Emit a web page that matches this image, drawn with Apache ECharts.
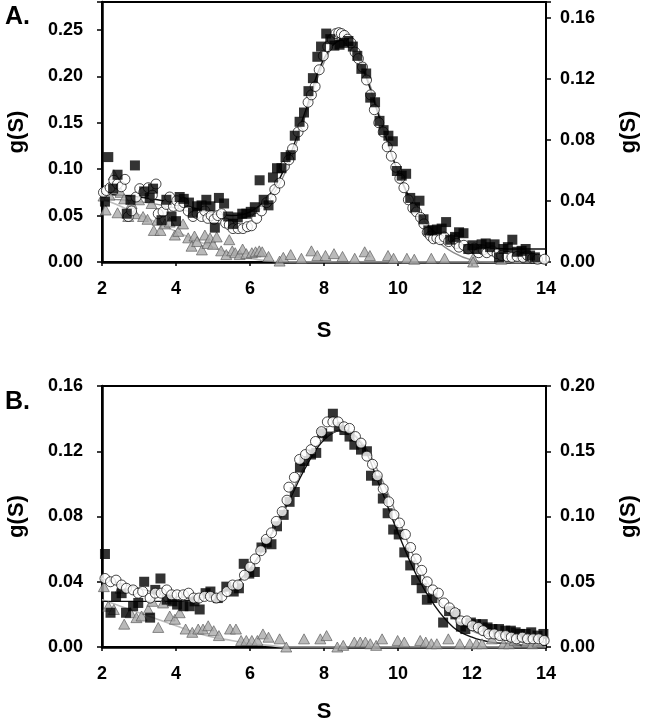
<!DOCTYPE html>
<html><head><meta charset="utf-8">
<script src="https://cdn.jsdelivr.net/npm/echarts@6/dist/echarts.min.js"></script>
<style>html,body{margin:0;padding:0;background:#fff}#c{width:648px;height:720px}</style>
</head><body><div id="c"></div>
<script>
// ---------- Panel A ----------
const aSquareS = [2.08,2.17,2.30,2.42,2.67,2.77,2.89,3.14,3.29,3.38,3.61,3.74,3.88,4.00,4.10,4.21,4.35,4.46,4.57,4.69,4.82,4.93,5.05,5.16,5.30,5.41,5.54,5.67,5.79,5.90,6.02,6.13,6.26,6.37,6.50,6.62,6.73,6.85,6.96,7.10,7.21,7.34,7.46,7.58,7.70,7.82,7.92,8.06,8.17,8.28,8.42,8.54,8.66,8.78,8.90,9.01,9.14,9.25,9.38,9.50,9.61,9.74,9.86,9.97,10.10,10.22,10.33,10.46,10.58,10.69,10.82,10.93,11.05,11.18,11.30,11.41,11.54,11.65,11.77,11.90,12.01,12.13,12.26,12.37,12.49,12.61,12.73,12.85,12.97,13.09,13.22,13.34,13.45,13.57,13.70];
const aSquareG = [0.065,0.113,0.079,0.094,0.052,0.067,0.104,0.076,0.069,0.079,0.045,0.067,0.049,0.044,0.070,0.068,0.064,0.053,0.060,0.061,0.067,0.060,0.037,0.069,0.063,0.049,0.041,0.048,0.052,0.052,0.054,0.059,0.088,0.067,0.061,0.091,0.101,0.101,0.113,0.115,0.136,0.151,0.161,0.184,0.198,0.221,0.232,0.246,0.240,0.233,0.234,0.236,0.238,0.232,0.222,0.208,0.203,0.177,0.172,0.152,0.142,0.136,0.130,0.098,0.093,0.095,0.069,0.059,0.066,0.046,0.034,0.034,0.035,0.036,0.043,0.024,0.027,0.032,0.031,0.014,0.018,0.014,0.019,0.020,0.016,0.019,0.005,0.014,0.016,0.024,0.011,0.012,0.014,0.007,0.005];
const aCircleS = [2.04,2.12,2.22,2.32,2.42,2.52,2.62,2.71,2.80,2.92,3.02,3.13,3.25,3.36,3.46,3.52,3.65,3.74,3.83,3.93,4.02,4.10,4.21,4.33,4.46,4.57,4.69,4.78,4.86,4.95,5.03,5.13,5.23,5.34,5.44,5.54,5.68,5.81,5.93,6.04,6.18,6.31,6.45,6.57,6.67,6.80,6.93,7.05,7.15,7.30,7.43,7.57,7.66,7.76,7.87,7.98,8.10,8.22,8.32,8.40,8.47,8.55,8.64,8.73,8.84,8.93,9.04,9.15,9.26,9.36,9.48,9.60,9.71,9.82,9.94,10.05,10.16,10.28,10.40,10.50,10.61,10.70,10.79,10.88,10.96,11.05,11.14,11.25,11.37,11.50,11.58,11.65,11.78,11.90,12.06,12.18,12.30,12.40,12.55,12.68,12.80,12.95,13.08,13.22,13.38,13.50,13.64,13.77,13.96];
const aCircleG = [0.075,0.077,0.080,0.088,0.084,0.081,0.089,0.049,0.055,0.070,0.079,0.075,0.080,0.072,0.084,0.052,0.054,0.062,0.070,0.060,0.066,0.060,0.064,0.055,0.049,0.052,0.049,0.055,0.047,0.050,0.046,0.050,0.052,0.042,0.040,0.036,0.036,0.036,0.038,0.039,0.047,0.055,0.064,0.068,0.078,0.085,0.103,0.110,0.122,0.140,0.146,0.172,0.180,0.189,0.207,0.222,0.232,0.240,0.246,0.247,0.246,0.244,0.240,0.236,0.226,0.219,0.210,0.196,0.180,0.164,0.150,0.140,0.124,0.114,0.102,0.090,0.080,0.067,0.058,0.054,0.048,0.041,0.032,0.028,0.025,0.026,0.024,0.027,0.022,0.025,0.020,0.016,0.018,0.014,0.015,0.010,0.013,0.010,0.012,0.009,0.007,0.006,0.005,0.006,0.005,0.007,0.004,0.003,0.003];
const aTriS = [2.04,2.10,2.20,2.32,2.42,2.50,2.60,2.71,2.80,2.89,3.00,3.11,3.23,3.34,3.40,3.50,3.58,3.70,3.83,3.97,4.06,4.19,4.33,4.42,4.50,4.57,4.70,4.78,4.85,4.92,5.00,5.10,5.22,5.36,5.44,5.52,5.60,5.72,5.80,5.90,6.05,6.15,6.25,6.33,6.50,6.80,6.90,7.10,7.39,7.66,7.82,8.04,8.27,8.50,8.83,9.10,9.24,9.73,9.88,10.24,10.44,10.90,11.26,12.03,12.03,12.79,13.20,13.50];
const aTriG = [0.071,0.056,0.072,0.094,0.053,0.075,0.068,0.049,0.063,0.052,0.067,0.049,0.046,0.063,0.034,0.045,0.034,0.041,0.043,0.029,0.033,0.041,0.026,0.017,0.028,0.022,0.013,0.029,0.020,0.026,0.019,0.027,0.012,0.008,0.024,0.012,0.010,0.008,0.014,0.009,0.010,0.011,0.012,0.011,0.006,0.001,0.005,0.008,0.004,0.012,0.007,0.007,0.009,0.006,0.004,0.011,0.007,0.007,0.004,0.004,0.003,0.004,0.004,0.004,0.000,0.003,0.004,0.006];
const aFitS = [2,2.5,3,3.5,4,4.5,5,5.5,6,6.5,7,7.5,8,8.5,9,9.5,10,10.5,11,11.5,12,12.5,13,13.5,14];
const aFitBlack = [0.073,0.072,0.070,0.067,0.063,0.058,0.053,0.050,0.054,0.071,0.107,0.163,0.219,0.239,0.212,0.155,0.097,0.056,0.032,0.021,0.016,0.015,0.014,0.014,0.014];
const aFitGray  = [0.068,0.067,0.065,0.062,0.058,0.053,0.048,0.046,0.050,0.066,0.101,0.158,0.215,0.241,0.215,0.158,0.097,0.052,0.025,0.010,0.002,0.000,0.000,0.000,0.000];
const aFitLight = [0.068,0.060,0.051,0.042,0.033,0.024,0.016,0.009,0.004,0.001,0.000,0,0,0,0,0,0,0,0,0,0,0,0,0,0];

// ---------- Panel B ----------
const bSquareS = [2.08,2.23,2.38,2.53,2.65,2.84,2.98,3.14,3.30,3.44,3.58,3.75,3.90,4.03,4.20,4.37,4.50,4.64,4.80,4.93,5.13,5.36,5.56,5.70,5.83,5.98,6.13,6.31,6.45,6.58,6.73,6.91,7.07,7.21,7.35,7.47,7.65,7.79,7.95,8.10,8.24,8.40,8.55,8.69,8.82,9.00,9.16,9.27,9.43,9.59,9.72,9.87,10.02,10.17,10.33,10.49,10.64,10.78,10.93,11.22,11.38,11.55,11.70,11.82,11.97,12.11,12.29,12.42,12.55,12.73,12.90,13.05,13.18,13.30,13.45,13.60,13.77,13.93];
const bSquareG = [0.057,0.021,0.031,0.033,0.021,0.025,0.027,0.040,0.018,0.035,0.042,0.029,0.028,0.026,0.025,0.025,0.028,0.023,0.033,0.034,0.030,0.037,0.034,0.036,0.051,0.045,0.046,0.061,0.064,0.063,0.074,0.081,0.089,0.095,0.110,0.114,0.118,0.119,0.131,0.129,0.143,0.135,0.133,0.129,0.124,0.121,0.120,0.105,0.102,0.091,0.082,0.072,0.069,0.058,0.050,0.041,0.036,0.029,0.030,0.015,0.022,0.020,0.0125,0.011,0.015,0.014,0.014,0.012,0.011,0.011,0.010,0.010,0.009,0.008,0.008,0.009,0.007,0.008];
const bCircleS = [2.08,2.23,2.38,2.53,2.66,2.84,2.98,3.10,3.30,3.44,3.60,3.75,3.88,4.03,4.20,4.34,4.48,4.62,4.77,4.93,5.09,5.24,5.38,5.53,5.68,5.85,6.00,6.14,6.29,6.44,6.58,6.71,6.87,7.00,7.05,7.20,7.34,7.50,7.65,7.77,7.93,8.09,8.24,8.38,8.54,8.69,8.85,9.00,9.16,9.31,9.44,9.60,9.75,9.89,10.04,10.20,10.34,10.49,10.64,10.79,10.94,11.09,11.24,11.39,11.54,11.70,11.86,12.01,12.17,12.30,12.45,12.60,12.75,12.91,13.06,13.20,13.36,13.50,13.65,13.80,13.95];
const bCircleG = [0.042,0.040,0.041,0.038,0.036,0.035,0.033,0.034,0.030,0.033,0.033,0.035,0.032,0.032,0.032,0.033,0.030,0.030,0.031,0.031,0.030,0.031,0.034,0.038,0.038,0.044,0.049,0.054,0.059,0.066,0.070,0.077,0.083,0.090,0.098,0.104,0.115,0.118,0.121,0.126,0.132,0.138,0.138,0.138,0.135,0.134,0.129,0.125,0.117,0.112,0.105,0.097,0.089,0.081,0.076,0.069,0.061,0.054,0.047,0.040,0.035,0.033,0.027,0.024,0.021,0.016,0.016,0.013,0.012,0.010,0.008,0.008,0.007,0.007,0.006,0.005,0.006,0.005,0.005,0.005,0.004];
const bTriS = [2.05,2.17,2.32,2.50,2.60,2.77,2.93,3.07,3.25,3.36,3.52,3.65,3.83,3.97,4.10,4.26,4.44,4.60,4.73,4.87,5.02,5.16,5.46,5.62,5.76,5.90,6.05,6.20,6.35,6.50,6.80,6.98,7.46,7.90,8.07,8.36,8.52,8.82,8.98,9.12,9.25,9.41,9.57,9.99,10.17,10.60,10.75,10.90,11.05,11.36,11.67,11.94,12.12,12.27,12.54,12.85,13.00,13.15,13.47,13.63,13.78];
const bTriG = [0.037,0.025,0.023,0.036,0.014,0.021,0.018,0.019,0.023,0.028,0.012,0.027,0.019,0.017,0.021,0.011,0.009,0.011,0.011,0.013,0.010,0.007,0.011,0.011,0.004,0.004,0.004,0.004,0.008,0.006,0.005,0.000,0.005,0.005,0.007,0.000,0.001,0.003,0.003,0.003,0.002,0.001,0.005,0.004,0.003,0.004,0.003,0.002,0.002,0.005,0.002,0.002,0.002,0.002,0.005,0.002,0.002,0.004,0.003,0.002,0.003];
const bFitS = [2,2.5,3,3.5,4,4.5,5,5.5,6,6.5,7,7.5,8,8.5,9,9.5,10,10.5,11,11.5,12,12.5,13,13.5,14];
const bFitBlack = [0.028,0.028,0.028,0.028,0.028,0.029,0.031,0.037,0.048,0.066,0.087,0.110,0.127,0.133,0.125,0.099,0.070,0.044,0.025,0.012,0.006,0.003,0.002,0.001,0.001];
const bFitGray  = [0.042,0.039,0.036,0.033,0.031,0.030,0.031,0.036,0.047,0.066,0.088,0.112,0.128,0.133,0.126,0.106,0.079,0.052,0.032,0.018,0.010,0.006,0.004,0.003,0.003];
const bFitLight = [0.029,0.025,0.021,0.017,0.013,0.009,0.006,0.004,0.002,0.001,0.000,0,0,0,0,0,0,0,0,0,0,0,0,0,0];

// ---------- Axes ----------
const xTicks = [2,4,6,8,10,12,14];
const aLeftTicks = [0,0.05,0.10,0.15,0.20,0.25];
const aRightTicks = [0,0.04,0.08,0.12,0.16];
const bLeftTicks = [0,0.04,0.08,0.12,0.16];
const bRightTicks = [0,0.05,0.10,0.15,0.20];
const panelLabels = ['A.','B.'];
const yTitle = 'g(S)';
const xTitle = 'S';

const zip = (s, g) => s.map((v, i) => [v, g[i]]);
const FONT = '"Liberation Sans", Arial, sans-serif';
const tickFmt = ticks => v => ticks.some(t => Math.abs(t - v) < 1e-9) ? v.toFixed(2) : '';

function xAxis(gi, nameGap) {
  return {
    type: 'value', gridIndex: gi, min: 2, max: 14, interval: 2,
    name: xTitle, nameLocation: 'middle', nameGap: nameGap,
    nameTextStyle: {fontFamily: FONT, fontWeight: 'bold', fontSize: 22, color: '#000'},
    axisLine: {show: true, onZero: false, lineStyle: {color: '#000', width: 2.5}},
    axisTick: {show: true, length: 4, lineStyle: {color: '#000', width: 1.5}},
    axisLabel: {fontFamily: FONT, fontWeight: 'bold', fontSize: 18, color: '#000', margin: 18,
      formatter: v => xTicks.includes(v) ? String(v) : ''},
    splitLine: {show: false}
  };
}
function yAxis(gi, pos, max, interval, ticks) {
  const left = pos === 'left';
  return {
    type: 'value', gridIndex: gi, position: pos, min: 0, max: max, interval: interval,
    name: yTitle, nameLocation: 'middle', nameGap: left ? 74 : 72, nameRotate: 90,
    nameTextStyle: {fontFamily: FONT, fontWeight: 'bold', fontSize: 22, color: '#000'},
    axisLine: {show: true, lineStyle: {color: '#000', width: left ? 2.5 : 2}},
    axisTick: {show: true, length: 5, lineStyle: {color: '#000', width: 1.5}},
    axisLabel: {fontFamily: FONT, fontWeight: 'bold', fontSize: 18, color: '#000', margin: left ? 19 : 14,
      formatter: tickFmt(ticks)},
    splitLine: {show: false}
  };
}
function lineSeries(xi, yi, s, g, color, w, z) {
  return {type: 'line', xAxisIndex: xi, yAxisIndex: yi, data: zip(s, g), smooth: 0.4,
    showSymbol: false, symbol: 'none', lineStyle: {color: color, width: w}, z: z, silent: true};
}
function scatter(xi, yi, s, g, kind, z) {
  const st = {
    square: {symbol: 'rect', symbolSize: 10, itemStyle: {color: '#000'}},
    circle: {symbol: 'circle', symbolSize: 10, itemStyle: {color: '#fff', borderColor: '#000', borderWidth: 0.9}},
    tri: {symbol: 'triangle', symbolSize: [11, 10], itemStyle: {color: '#a9a9a9', borderColor: '#555', borderWidth: 0.8}}
  }[kind];
  return Object.assign({type: 'scatter', xAxisIndex: xi, yAxisIndex: yi, data: zip(s, g), z: z, silent: true}, st);
}

const chart = echarts.init(document.getElementById('c'), null, {renderer: 'canvas'});
chart.setOption({
  animation: false,
  backgroundColor: '#fff',
  title: [
    {text: panelLabels[0], left: 0, top: 0, textStyle: {fontFamily: FONT, fontWeight: 'bold', fontSize: 25, color: '#000'}},
    {text: panelLabels[1], left: 0, top: 385, textStyle: {fontFamily: FONT, fontWeight: 'bold', fontSize: 25, color: '#000'}}
  ],
  grid: [
    {left: 102, right: 102, top: 2, height: 260, show: true, borderColor: '#000', borderWidth: 2, backgroundColor: 'transparent', outerBoundsMode: 'none', containLabel: false},
    {left: 102, right: 102, top: 386, height: 261, show: true, borderColor: '#000', borderWidth: 2, backgroundColor: 'transparent', outerBoundsMode: 'none', containLabel: false}
  ],
  xAxis: [xAxis(0, 58), xAxis(1, 54)],
  yAxis: [
    yAxis(0, 'left', 0.28, 0.05, aLeftTicks),
    yAxis(0, 'right', 0.1705, 0.04, aRightTicks),
    yAxis(1, 'left', 0.16, 0.04, bLeftTicks),
    yAxis(1, 'right', 0.20, 0.05, bRightTicks)
  ],
  series: [
    lineSeries(0, 0, aFitS, aFitLight, '#bdbdbd', 1.6, 2),
    lineSeries(0, 0, aFitS, aFitGray, '#8c8c8c', 1.4, 2),
    lineSeries(0, 0, aFitS, aFitBlack, '#111', 1.4, 3),
    scatter(0, 0, aTriS, aTriG, 'tri', 4),
    scatter(0, 0, aCircleS, aCircleG, 'circle', 5),
    scatter(0, 0, aSquareS, aSquareG, 'square', 6),
    lineSeries(1, 2, bFitS, bFitLight, '#bdbdbd', 1.6, 2),
    lineSeries(1, 2, bFitS, bFitBlack, '#111', 1.4, 2),
    lineSeries(1, 2, bFitS, bFitGray, '#8c8c8c', 1.4, 3),
    scatter(1, 2, bTriS, bTriG, 'tri', 4),
    scatter(1, 2, bSquareS, bSquareG, 'square', 5),
    scatter(1, 2, bCircleS, bCircleG, 'circle', 6)
  ]
});
</script>
</body></html>
